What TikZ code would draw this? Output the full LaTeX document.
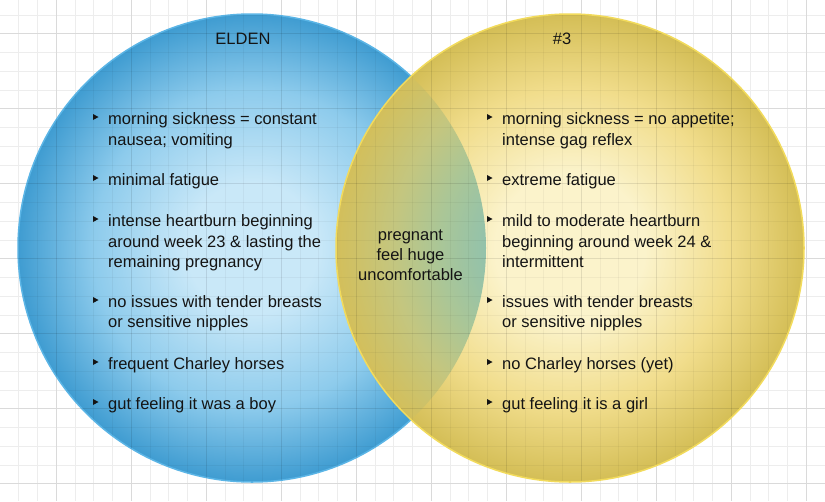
\documentclass[tikz,border=0pt]{standalone}
\usepackage{fontspec}
\setmainfont{Liberation Sans}
\definecolor{gridminor}{HTML}{EDEDED}
\definecolor{gridmajor}{HTML}{DADADA}
\definecolor{textc}{HTML}{141414}
\definecolor{bluec}{HTML}{C9E8F8}
\definecolor{bluem}{HTML}{8DCBEC}
\definecolor{bluee}{HTML}{3F9CD1}
\definecolor{blueline}{HTML}{5BB5E6}
\definecolor{yelc}{HTML}{FBF3CB}
\definecolor{yelm}{HTML}{F1DD8C}
\definecolor{yele}{HTML}{D4BE56}
\definecolor{yelline}{HTML}{F2DB5C}
\definecolor{lensa}{HTML}{93C2AB}
\definecolor{lensb}{HTML}{AAC697}
\definecolor{lensc}{HTML}{C4C67F}
\definecolor{lensd}{HTML}{D3BF5B}
\pgfdeclareradialshading{blueshade}{\pgfpointorigin}{color(0bp)=(bluec); color(7bp)=(bluec); color(17bp)=(bluem); color(25bp)=(bluee); color(50bp)=(bluee)}
\pgfdeclareradialshading{yelshade}{\pgfpointorigin}{color(0bp)=(yelc); color(8bp)=(yelc); color(17bp)=(yelm); color(25bp)=(yele); color(50bp)=(yele)}
\pgfdeclareradialshading{lensshade}{\pgfpointorigin}{color(0bp)=(lensa); color(9bp)=(lensa); color(14bp)=(lensb); color(19bp)=(lensc); color(25bp)=(lensd); color(50bp)=(lensd)}
\newcommand{\bulat}[2]{\fill[textc] (#1-15,#2-10) -- (#1-15,#2-4) -- (#1-9.5,#2-7) -- cycle;}
\begin{document}
\begin{tikzpicture}[x=1pt,y=-1pt,
  txt/.style={font=\fontsize{16.5}{20}\selectfont, inner sep=0pt, text=textc},
  line/.style={txt, anchor=base west},
  ctr/.style={txt, anchor=base}]
\useasboundingbox (0,0) rectangle (825,501);
\fill[white] (0,0) rectangle (825,501);
% grid
\foreach \k in {1,...,44} \draw[gridminor, line width=0.8pt] ({18.75*\k},0) -- ({18.75*\k},501);
\foreach \j in {0,...,25} \draw[gridminor, line width=0.8pt] (0,{15+18.75*\j}) -- (825,{15+18.75*\j});
\foreach \m in {0,...,10} \draw[gridmajor, line width=1.2pt] ({56.25+75*\m},0) -- ({56.25+75*\m},501);
\foreach \m in {0,...,6} \draw[gridmajor, line width=1.2pt] (0,{33.75+75*\m}) -- (825,{33.75+75*\m});
% circles
\shade[shading=blueshade] (252,248) circle[radius=234pt];
\draw[blueline, line width=1.5pt] (252,248) circle[radius=234pt];
\shade[shading=yelshade] (570,248) circle[radius=234pt];
\begin{scope}
  \clip (252,248) circle[radius=234pt];
  \shade[shading=lensshade] (570,248) circle[radius=234pt];
\end{scope}
% faint grid through circles
\begin{scope}
  \clip (252,248) circle[radius=234pt] (570,248) circle[radius=234pt];
  \foreach \k in {1,...,44} \draw[black, opacity=0.04, line width=0.8pt] ({18.75*\k},0) -- ({18.75*\k},501);
  \foreach \j in {0,...,25} \draw[black, opacity=0.04, line width=0.8pt] (0,{15+18.75*\j}) -- (825,{15+18.75*\j});
  \foreach \m in {0,...,10} \draw[black, opacity=0.06, line width=1.2pt] ({56.25+75*\m},0) -- ({56.25+75*\m},501);
  \foreach \m in {0,...,6} \draw[black, opacity=0.06, line width=1.2pt] (0,{33.75+75*\m}) -- (825,{33.75+75*\m});
\end{scope}
\draw[yelline, line width=1.5pt] (570,248) circle[radius=234pt];
% titles
\node[ctr] (elden) at (243,44) {ELDEN};
\node[ctr] (three) at (562,44) {\#3};
% center
\node[ctr] (c1) at (410.5,240) {pregnant};
\node[ctr] (c2) at (410.5,260) {feel huge};
\node[ctr] (c3) at (410.5,280) {uncomfortable};
% left column
\bulat{108}{124}\node[line] (la1) at (108,124) {morning sickness = constant};
\node[line] (la2) at (108,145) {nausea; vomiting};
\bulat{108}{185}\node[line] (lb1) at (108,185) {minimal fatigue};
\bulat{108}{226}\node[line] (lc1) at (108,226) {intense heartburn beginning};
\node[line] (lc2) at (108,247) {around week 23 \& lasting the};
\node[line] (lc3) at (108,267) {remaining pregnancy};
\bulat{108}{307}\node[line] (ld1) at (108,307) {no issues with tender breasts};
\node[line] (ld2) at (108,327) {or sensitive nipples};
\bulat{108}{369}\node[line] (le1) at (108,369) {frequent Charley horses};
\bulat{108}{409}\node[line] (lf1) at (108,409) {gut feeling it was a boy};
% right column
\bulat{502}{124}\node[line] (ra1) at (502,124) {morning sickness = no appetite;};
\node[line] (ra2) at (502,145) {intense gag reflex};
\bulat{502}{185}\node[line] (rb1) at (502,185) {extreme fatigue};
\bulat{502}{226}\node[line] (rc1) at (502,226) {mild to moderate heartburn};
\node[line] (rc2) at (502,247) {beginning around week 24 \&};
\node[line] (rc3) at (502,267) {intermittent};
\bulat{502}{307}\node[line] (rd1) at (502,307) {issues with tender breasts};
\node[line] (rd2) at (502,327) {or sensitive nipples};
\bulat{502}{369}\node[line] (re1) at (502,369) {no Charley horses (yet)};
\bulat{502}{409}\node[line] (rf1) at (502,409) {gut feeling it is a girl};
\end{tikzpicture}
\end{document}
